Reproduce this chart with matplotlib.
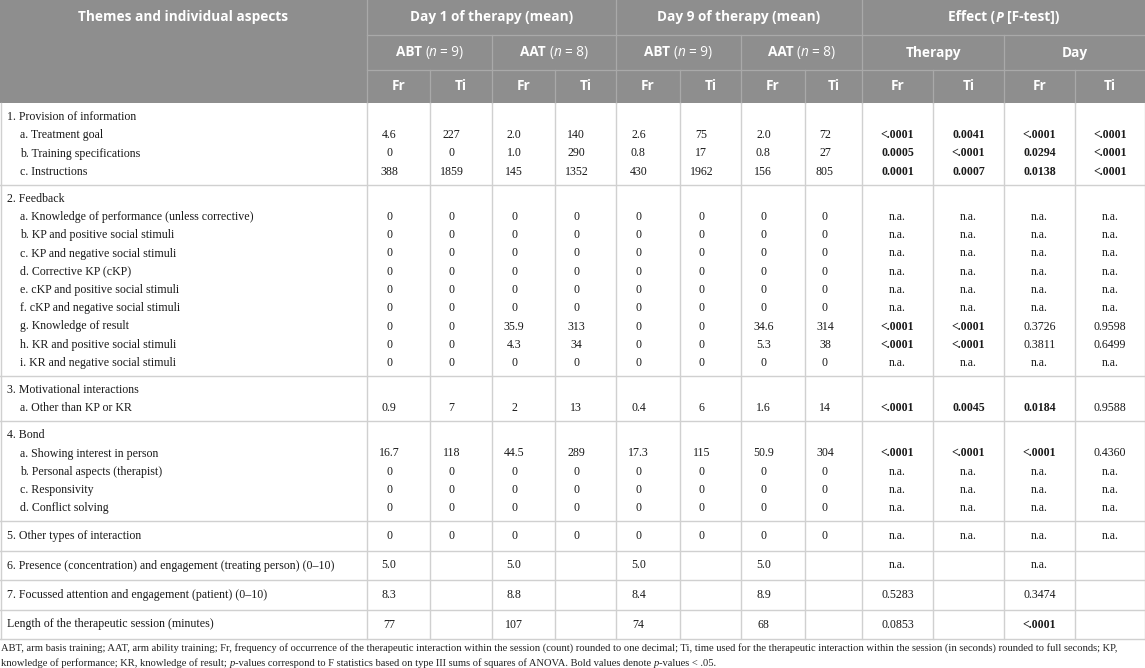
import matplotlib
matplotlib.use("Agg")
import matplotlib.pyplot as plt

# ---------------- data ----------------
row_labels = [
    "1. Provision of information",
    "a. Treatment goal",
    "b. Training specifications",
    "c. Instructions",
    "2. Feedback",
    "a. Knowledge of performance (unless corrective)",
    "b. KP and positive social stimuli",
    "c. KP and negative social stimuli",
    "d. Corrective KP (cKP)",
    "e. cKP and positive social stimuli",
    "f. cKP and negative social stimuli",
    "g. Knowledge of result",
    "h. KR and positive social stimuli",
    "i. KR and negative social stimuli",
    "3. Motivational interactions",
    "a. Other than KP or KR",
    "4. Bond",
    "a. Showing interest in person",
    "b. Personal aspects (therapist)",
    "c. Responsivity",
    "d. Conflict solving",
    "5. Other types of interaction",
    "6. Presence (concentration) and engagement (treating person) (0\u201310)",
    "7. Focussed attention and engagement (patient) (0\u201310)",
    "Length of the therapeutic session (minutes)",
]
row_indent = [0, 1, 1, 1, 0, 1, 1, 1, 1, 1, 1, 1, 1, 1, 0, 1, 0, 1, 1, 1, 1, 0, 0, 0, 0]
sections = [[0, 1, 2, 3], list(range(4, 14)), [14, 15], [16, 17, 18, 19, 20], [21], [22], [23], [24]]

_ = ""
d1_abt_fr = [_, "4.6", "0", "388", _, "0", "0", "0", "0", "0", "0", "0", "0", "0", _, "0.9", _, "16.7", "0", "0", "0", "0", "5.0", "8.3", "77"]
d1_abt_ti = [_, "227", "0", "1859", _, "0", "0", "0", "0", "0", "0", "0", "0", "0", _, "7", _, "118", "0", "0", "0", "0", _, _, _]
d1_aat_fr = [_, "2.0", "1.0", "145", _, "0", "0", "0", "0", "0", "0", "35.9", "4.3", "0", _, "2", _, "44.5", "0", "0", "0", "0", "5.0", "8.8", "107"]
d1_aat_ti = [_, "140", "290", "1352", _, "0", "0", "0", "0", "0", "0", "313", "34", "0", _, "13", _, "289", "0", "0", "0", "0", _, _, _]
d9_abt_fr = [_, "2.6", "0.8", "430", _, "0", "0", "0", "0", "0", "0", "0", "0", "0", _, "0.4", _, "17.3", "0", "0", "0", "0", "5.0", "8.4", "74"]
d9_abt_ti = [_, "75", "17", "1962", _, "0", "0", "0", "0", "0", "0", "0", "0", "0", _, "6", _, "115", "0", "0", "0", "0", _, _, _]
d9_aat_fr = [_, "2.0", "0.8", "156", _, "0", "0", "0", "0", "0", "0", "34.6", "5.3", "0", _, "1.6", _, "50.9", "0", "0", "0", "0", "5.0", "8.9", "68"]
d9_aat_ti = [_, "72", "27", "805", _, "0", "0", "0", "0", "0", "0", "314", "38", "0", _, "14", _, "304", "0", "0", "0", "0", _, _, _]
na = "n.a."
p_ther_fr = [_, "<.0001", "0.0005", "0.0001", _, na, na, na, na, na, na, "<.0001", "<.0001", na, _, "<.0001", _, "<.0001", na, na, na, na, na, "0.5283", "0.0853"]
p_ther_ti = [_, "0.0041", "<.0001", "0.0007", _, na, na, na, na, na, na, "<.0001", "<.0001", na, _, "0.0045", _, "<.0001", na, na, na, na, _, _, _]
p_day_fr = [_, "<.0001", "0.0294", "0.0138", _, na, na, na, na, na, na, "0.3726", "0.3811", na, _, "0.0184", _, "<.0001", na, na, na, na, na, "0.3474", "<.0001"]
p_day_ti = [_, "<.0001", "<.0001", "<.0001", _, na, na, na, na, na, na, "0.9598", "0.6499", na, _, "0.9588", _, "0.4360", na, na, na, na, _, _, _]

value_cols = [d1_abt_fr, d1_abt_ti, d1_aat_fr, d1_aat_ti, d9_abt_fr, d9_abt_ti, d9_aat_fr, d9_aat_ti]
p_cols = [p_ther_fr, p_ther_ti, p_day_fr, p_day_ti]

footnote_1 = ("ABT, arm basis training; AAT, arm ability training; Fr, frequency of occurrence of the therapeutic interaction "
              "within the session (count) rounded to one decimal; Ti, time used for the therapeutic interaction within the "
              "session (in seconds) rounded to full seconds; KP,")
footnote_2 = [("knowledge of performance; KR, knowledge of result; ", "normal"), ("p", "italic"),
              ("-values correspond to F statistics based on type III sums of squares of ANOVA. Bold values denote ", "normal"),
              ("p", "italic"), ("-values < .05.", "normal")]

# ---------------- layout ----------------
W, H = 1145, 668
fig = plt.figure(figsize=(W / 100, H / 100), dpi=100)
ax = fig.add_axes([0, 0, 1, 1])
ax.set_xlim(0, W)
ax.set_ylim(H, 0)
ax.axis("off")
renderer = fig.canvas.get_renderer()

col_x = [0, 367, 430, 492, 555, 616, 680, 741, 805, 862, 933, 1004, 1075, 1145]
hdr_y = [0, 35, 70, 103]
HDR_BG = "#8e8e8e"
HDR_LINE = "#a9a9a9"
GRID = "#d0d0d0"
TXT = "#1a1a1a"
SANS = "Open Sans"
SERIF = "Liberation Serif"
FS_H = 9.8
FS_B = 8.6
FS_F = 7.6

# header background
ax.add_patch(plt.Rectangle((0, 0), W, hdr_y[3], color=HDR_BG, lw=0, zorder=0))


def adv(s, **kw):
    t1 = ax.text(0, 0, "|" + s + "|", **kw)
    t2 = ax.text(0, 0, "||", **kw)
    w = t1.get_window_extent(renderer).width - t2.get_window_extent(renderer).width
    t1.remove()
    t2.remove()
    return w


def rich(x, y, segs, ha="center", **common):
    widths = [adv(s, **common, **kw) for s, kw in segs]
    total = sum(widths)
    cx = x - total / 2 if ha == "center" else x
    for (s, kw), w in zip(segs, widths):
        lead = len(s) - len(s.lstrip(" "))
        off = adv(" " * lead, **common, **kw) if lead else 0
        if s.strip():
            ax.text(cx + off, y, s.lstrip(" "), ha="left", va="center", **common, **kw)
        cx += w


hk = dict(family=SANS, fontsize=FS_H, color="white")
B = dict(fontweight="bold")
R = dict(fontweight="normal")
I = dict(fontweight="normal", style="italic")
BI = dict(fontweight="bold", style="italic")

mid = lambda a, b: (a + b) / 2
ax.text(mid(col_x[0], col_x[1]), mid(hdr_y[0], hdr_y[1]), "Themes and individual aspects",
        ha="center", va="center", fontweight="bold", **hk)
rich(mid(col_x[1], col_x[5]), mid(hdr_y[0], hdr_y[1]), [("Day 1 of therapy (mean)", B)], **hk)
rich(mid(col_x[5], col_x[9]), mid(hdr_y[0], hdr_y[1]), [("Day 9 of therapy (mean)", B)], **hk)
rich(mid(col_x[9], col_x[13]), mid(hdr_y[0], hdr_y[1]),
     [("Effect (", B), ("P", BI), (" [F-test])", B)], **hk)
groups2 = [("ABT", "9", 1, 3), ("AAT", "8", 3, 5), ("ABT", "9", 5, 7), ("AAT", "8", 7, 9)]
for name, n, a, b in groups2:
    rich(mid(col_x[a], col_x[b]), mid(hdr_y[1], hdr_y[2]),
         [(name + " ", B), ("(", R), ("n", I), (" = " + n + ")", R)], **hk)
rich(mid(col_x[9], col_x[11]), mid(hdr_y[1], hdr_y[2]), [("Therapy", B)], **hk)
rich(mid(col_x[11], col_x[13]), mid(hdr_y[1], hdr_y[2]), [("Day", B)], **hk)
for i in range(12):
    ax.text(mid(col_x[i + 1], col_x[i + 2]), mid(hdr_y[2], hdr_y[3]), ["Fr", "Ti"][i % 2],
            ha="center", va="center", fontweight="bold", **hk)

# header lines
ax.plot([col_x[1], W], [hdr_y[1]] * 2, color=HDR_LINE, lw=0.9)
ax.plot([col_x[1], W], [hdr_y[2]] * 2, color=HDR_LINE, lw=0.9)
for i in [1, 5, 9]:
    ax.plot([col_x[i]] * 2, [0, hdr_y[3]], color=HDR_LINE, lw=0.9)
for i in [3, 7, 11]:
    ax.plot([col_x[i]] * 2, [hdr_y[1], hdr_y[3]], color=HDR_LINE, lw=0.9)
for i in [2, 4, 6, 8, 10, 12]:
    ax.plot([col_x[i]] * 2, [hdr_y[2], hdr_y[3]], color=HDR_LINE, lw=0.9)

# body
PAD_T, LINE, PAD_B, SINGLE = 14, 18.25, 13, 29.5
row_y = {}
y = hdr_y[3]
sep = [y]
for sec in sections:
    if len(sec) == 1:
        row_y[sec[0]] = y + SINGLE / 2
        y += SINGLE
    else:
        for k, r in enumerate(sec):
            row_y[r] = y + PAD_T + k * LINE
        y = y + PAD_T + (len(sec) - 1) * LINE + PAD_B
    sep.append(y)
table_bottom = y

bk = dict(family=SERIF, fontsize=FS_B, color=TXT)
for r, lab in enumerate(row_labels):
    ax.text(7 + 13 * row_indent[r], row_y[r], lab, ha="left", va="center", **bk)
    for c, col in enumerate(value_cols):
        if col[r]:
            x0, x1 = col_x[c + 1], col_x[c + 2]
            ax.text(x0 + 0.35 * (x1 - x0), row_y[r], col[r], ha="center", va="center", **bk)
    for c, col in enumerate(p_cols):
        v = col[r]
        if v:
            sig = v.startswith("<") or (v != na and float(v) < 0.05)
            x0, x1 = col_x[c + 9], col_x[c + 10]
            ax.text(mid(x0, x1), row_y[r], v, ha="center", va="center",
                    fontweight="bold" if sig else "normal", **bk)

for s in sep[1:]:
    ax.plot([0, W], [s, s], color=GRID, lw=1.0)
for i in range(1, 13):
    ax.plot([col_x[i]] * 2, [hdr_y[3], table_bottom], color=GRID, lw=1.0)
ax.plot([0.5, 0.5], [hdr_y[3], table_bottom], color=GRID, lw=1.0)
ax.plot([W - 0.5, W - 0.5], [hdr_y[3], table_bottom], color=GRID, lw=1.0)

# footnote
fk = dict(family=SERIF, fontsize=FS_F, color="#222222")
ax.text(1, table_bottom + 9, footnote_1, ha="left", va="center", **fk)
rich(1, table_bottom + 24, [(s, dict(style=st)) for s, st in footnote_2], ha="left", **fk)

fig.savefig("out.png", dpi=100)
